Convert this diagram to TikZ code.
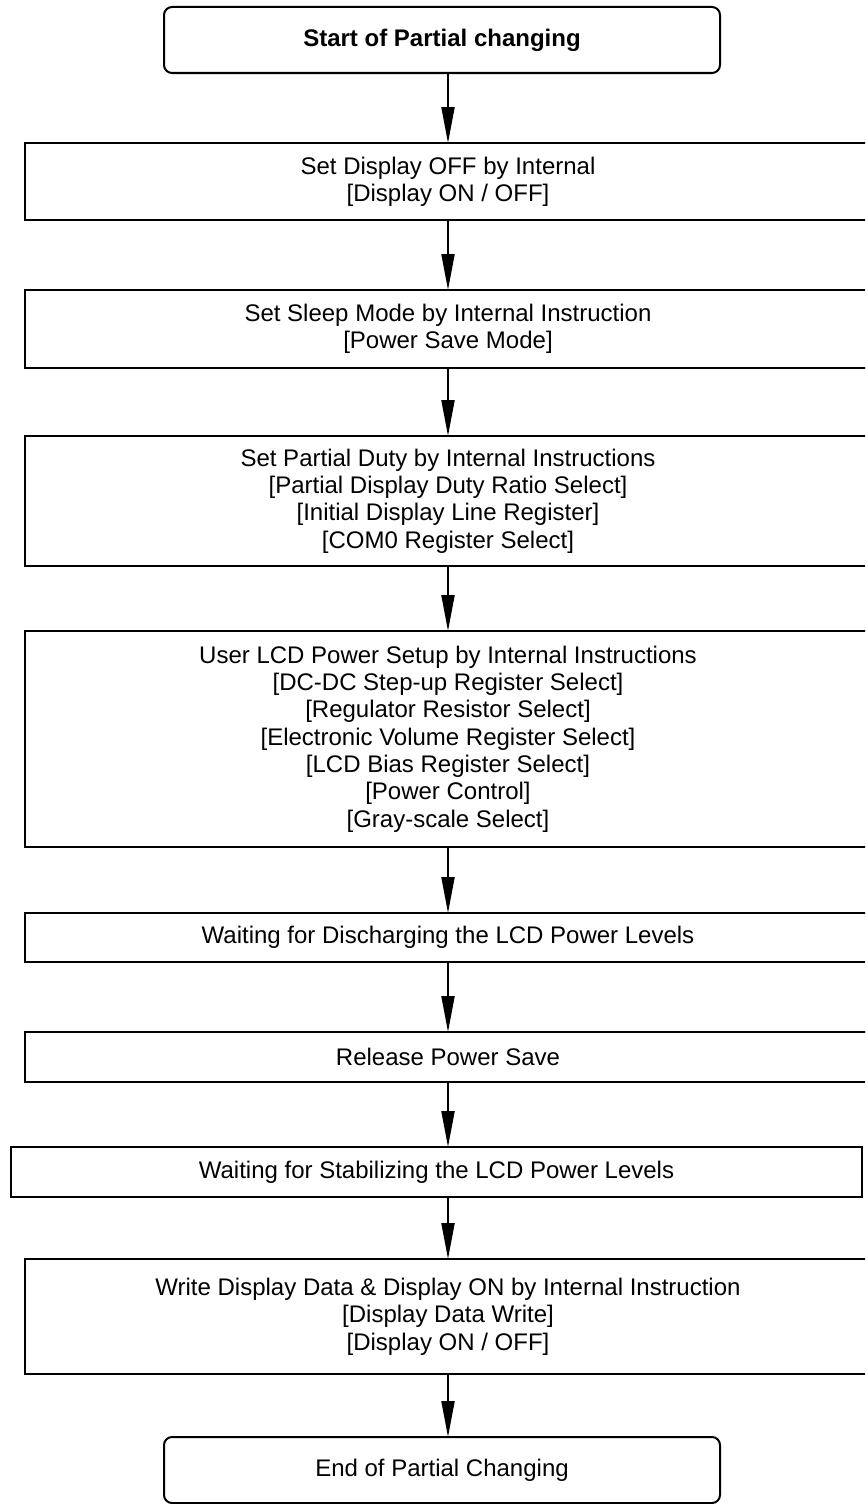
\documentclass[tikz,border=0pt]{standalone}
\usepackage{fontspec}
\setmainfont{Liberation Sans}
\usetikzlibrary{arrows.meta}

\begin{document}
\begin{tikzpicture}[x=1pt, y=-1pt,
  every node/.style={font=\fontsize{24pt}{27.3pt}\selectfont, align=center, outer sep=0pt, inner sep=0pt},
  stepbox/.style={draw, line width=2pt, minimum width=846pt},
  termbox/.style={draw, line width=2pt, rounded corners=8pt, minimum width=556pt, minimum height=66pt},
  flow/.style={line width=2pt, -{Triangle[length=36pt, width=13pt]}}]

  % page frame
  \path[use as bounding box, clip] (0,0) rectangle (865,1504);

  % terminals and steps
  \node[termbox, font=\fontsize{24pt}{27.3pt}\selectfont\bfseries] (start) at (442,40) {Start of Partial changing};
  \node[stepbox, minimum height=77pt] (b2) at (448,181.5) {Set Display OFF by Internal\\{}[Display ON / OFF]};
  \node[stepbox, minimum height=78pt] (b3) at (448,329) {Set Sleep Mode by Internal Instruction\\{}[Power Save Mode]};
  \node[stepbox, minimum height=130pt] (b4) at (448,501) {Set Partial Duty by Internal Instructions\\{}[Partial Display Duty Ratio Select]\\{}[Initial Display Line Register]\\{}[COM0 Register Select]};
  \node[stepbox, minimum height=216pt] (b5) at (448,739) {User LCD Power Setup by Internal Instructions\\{}[DC-DC Step-up Register Select]\\{}[Regulator Resistor Select]\\{}[Electronic Volume Register Select]\\{}[LCD Bias Register Select]\\{}[Power Control]\\{}[Gray-scale Select]};
  \node[stepbox, minimum height=49pt] (b6) at (448,937.5) {Waiting for Discharging the LCD Power Levels};
  \node[stepbox, minimum height=50pt] (b7) at (448,1057) {Release Power Save};
  \node[stepbox, minimum height=50pt, minimum width=851pt] (b8) at (436.5,1172) {Waiting for Stabilizing the LCD Power Levels};
  \node[stepbox, minimum height=115pt] (b9) at (448,1316.5) {Write Display Data \& Display ON by Internal Instruction\\{}[Display Data Write]\\{}[Display ON / OFF]};
  \node[termbox] (end) at (442,1470) {End of Partial Changing};

  % connectors
  \draw[flow] (start.south -| b2.north) -- (b2.north);
  \draw[flow] (b2.south) -- (b3.north);
  \draw[flow] (b3.south) -- (b4.north);
  \draw[flow] (b4.south) -- (b5.north);
  \draw[flow] (b5.south) -- (b6.north);
  \draw[flow] (b6.south) -- (b7.north);
  \draw[flow] (b7.south) -- (b7.south |- b8.north);
  \draw[flow] (b8.north -| b9.north) ++(0,50) -- (b9.north);
  \draw[flow] (b9.south) -- (b9.south |- end.north);
\end{tikzpicture}
\end{document}
